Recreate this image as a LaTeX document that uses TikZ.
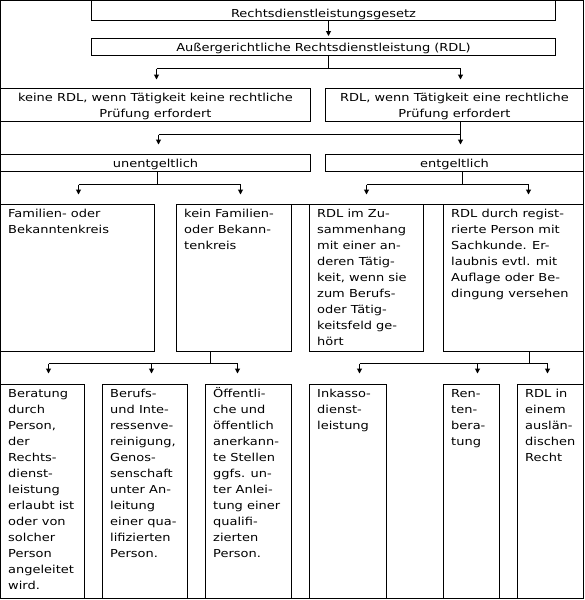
\documentclass[tikz,border=0pt]{standalone}
\usepackage{fontspec}
\setmainfont[FakeStretch=1.18]{DejaVu Sans}
\usetikzlibrary{arrows.meta,calc,fit}
\begin{document}
\begin{tikzpicture}[x=1pt,y=-1pt,
  ln/.style={line width=1pt},
  box/.style={draw, line width=1pt, inner sep=0pt, rectangle},
  arr/.style={line width=1pt, -{Triangle[length=5pt,width=5pt]}},
  txt/.style={inner sep=0pt, font=\fontsize{11pt}{16pt}\selectfont},
]
\useasboundingbox (0,0) rectangle (584,600);
% frame
\node[box, fit={(0.5,0.5) (583.5,598.5)}] (frame) {};
% boxes
\node[box, fit={(91.5,0.5) (555.5,20.5)}] (b1) {};
\node[box, fit={(91.5,38.5) (555.5,55.5)}] (b2) {};
\node[box, fit={(0.5,88.5) (310.5,121.5)}] (k1) {};
\node[box, fit={(325.5,88.5) (583.5,121.5)}] (k2) {};
\node[box, fit={(0.5,154.5) (310.5,171.5)}] (u1) {};
\node[box, fit={(325.5,154.5) (583.5,171.5)}] (u2) {};
\node[box, fit={(0.5,204.5) (154.5,351.5)}] (f1) {};
\node[box, fit={(176.5,204.5) (291.5,351.5)}] (f2) {};
\node[box, fit={(309.5,204.5) (423.5,351.5)}] (f3) {};
\node[box, fit={(443.5,204.5) (583.5,351.5)}] (f4) {};
\node[box, fit={(0.5,384.5) (84.5,598.5)}] (g1) {};
\node[box, fit={(102.5,384.5) (187.5,598.5)}] (g2) {};
\node[box, fit={(205.5,384.5) (291.5,598.5)}] (g3) {};
\node[box, fit={(309.5,384.5) (386.5,598.5)}] (g4) {};
\node[box, fit={(443.5,384.5) (499.5,598.5)}] (g5) {};
\node[box, fit={(517.5,384.5) (583.5,598.5)}] (g6) {};
\draw[ln] (f2.north east) -- (f3.north west);
\draw[ln] (f3.north east) -- (f4.north west);
% centred texts
\node[txt, anchor=base] (tb1) at ($(b1.north)+(0,17.5)$) {Rechtsdienstleistungsgesetz};
\node[txt, anchor=base] (tb2) at ($(b2.north)+(0,13.2)$) {Außergerichtliche Rechtsdienstleistung (RDL)};
\node[txt, anchor=base] (tk1) at ($(k1.north)+(0,13.2)$) {\begin{tabular}[t]{@{}c@{}}keine RDL, wenn Tätigkeit keine rechtliche\\Prüfung erfordert\end{tabular}};
\node[txt, anchor=base] (tk2) at ($(k2.north)+(0,13.2)$) {\begin{tabular}[t]{@{}c@{}}RDL, wenn Tätigkeit eine rechtliche\\Prüfung erfordert\end{tabular}};
\node[txt, anchor=base] (tu1) at ($(u1.north)+(0,13)$) {unentgeltlich};
\node[txt, anchor=base] (tu2) at ($(u2.north)+(0,13)$) {entgeltlich};
% left-aligned texts
\newcommand{\boxtext}[3]{\node[txt, anchor=base west] (#1) at ($(#2.north west)+(8,13.5)$) {\begin{tabular}[t]{@{}l@{}}#3\end{tabular}};}
\boxtext{tf1}{f1}{Familien- oder\\Bekanntenkreis}
\boxtext{tf2}{f2}{kein Familien-\\oder Bekann-\\tenkreis}
\boxtext{tf3}{f3}{RDL im Zu-\\sammenhang\\mit einer an-\\deren Tätig-\\keit, wenn sie\\zum Berufs-\\oder Tätig-\\keitsfeld ge-\\hört}
\boxtext{tf4}{f4}{RDL durch regist-\\rierte Person mit\\Sachkunde. Er-\\laubnis evtl. mit\\Auflage oder Be-\\dingung versehen}
\boxtext{tg1}{g1}{Beratung\\durch\\Person,\\der\\Rechts-\\dienst-\\leistung\\erlaubt ist\\oder von\\solcher\\Person\\angeleitet\\wird.}
\boxtext{tg2}{g2}{Berufs-\\und Inte-\\ressenve-\\reinigung,\\Genos-\\senschaft\\unter An-\\leitung\\einer qua-\\lifizierten\\Person.}
\boxtext{tg3}{g3}{Öffentli-\\che und\\öffentlich\\anerkann-\\te Stellen\\ggfs. un-\\ter Anlei-\\tung einer\\qualifi-\\zierten\\Person.}
\boxtext{tg4}{g4}{Inkasso-\\dienst-\\leistung}
\boxtext{tg5}{g5}{Ren-\\ten-\\bera-\\tung}
\boxtext{tg6}{g6}{RDL in\\einem\\auslän-\\dischen\\Recht}
% junctions
\coordinate (j1) at (328.5,68.5); \coordinate (j1l) at (156.5,68.5); \coordinate (j1r) at (460.5,68.5);
\coordinate (j2) at (460.5,134.5); \coordinate (j2l) at (158.5,134.5);
\coordinate (j3) at (157.5,184.5); \coordinate (j3l) at (78.5,184.5); \coordinate (j3r) at (240.5,184.5);
\coordinate (j4) at (462.5,184.5); \coordinate (j4l) at (366.5,184.5); \coordinate (j4r) at (528.5,184.5);
\coordinate (j5) at (210.5,363.5); \coordinate (j5a) at (48.5,363.5); \coordinate (j5b) at (151.5,363.5); \coordinate (j5c) at (237.5,363.5);
\coordinate (j6) at (529.5,363.5); \coordinate (j6a) at (359.5,363.5); \coordinate (j6b) at (477.5,363.5); \coordinate (j6c) at (547.5,363.5);
% connectors
\draw[arr, shorten >=2pt] (b1.south -| j1) -- (b2.north -| j1);
\draw[ln] (b2.south -| j1) -- (j1);
\draw[ln] (j1l) -- (j1r);
\draw[arr, shorten >=8.5pt] (j1l) -- (j1l |- k1.north);
\draw[arr, shorten >=8.5pt] (j1r) -- (j1r |- k2.north);
\draw[ln] (k2.south -| j2) -- (j2);
\draw[ln] (j2l) -- (j2);
\draw[arr, shorten >=9.5pt] (j2l) -- (j2l |- u1.north);
\draw[arr, shorten >=9.5pt] (j2) -- (j2 |- u2.north);
\draw[ln] (u1.south -| j3) -- (j3);
\draw[ln] (j3l) -- (j3r);
\draw[arr, shorten >=9.5pt] (j3l) -- (j3l |- f1.north);
\draw[arr, shorten >=9.5pt] (j3r) -- (j3r |- f2.north);
\draw[ln] (u2.south -| j4) -- (j4);
\draw[ln] (j4l) -- (j4r);
\draw[arr, shorten >=9.5pt] (j4l) -- (j4l |- f3.north);
\draw[arr, shorten >=9.5pt] (j4r) -- (j4r |- f4.north);
\draw[ln] (f2.south -| j5) -- (j5);
\draw[ln] (j5a) -- (j5c);
\draw[arr, shorten >=10.5pt] (j5a) -- (j5a |- g1.north);
\draw[arr, shorten >=10.5pt] (j5b) -- (j5b |- g2.north);
\draw[arr, shorten >=10.5pt] (j5c) -- (j5c |- g3.north);
\draw[ln] (f4.south -| j6) -- (j6);
\draw[ln] (j6a) -- (j6c);
\draw[arr, shorten >=10.5pt] (j6a) -- (j6a |- g4.north);
\draw[arr, shorten >=10.5pt] (j6b) -- (j6b |- g5.north);
\draw[arr, shorten >=10.5pt] (j6c) -- (j6c |- g6.north);
\end{tikzpicture}
\end{document}
